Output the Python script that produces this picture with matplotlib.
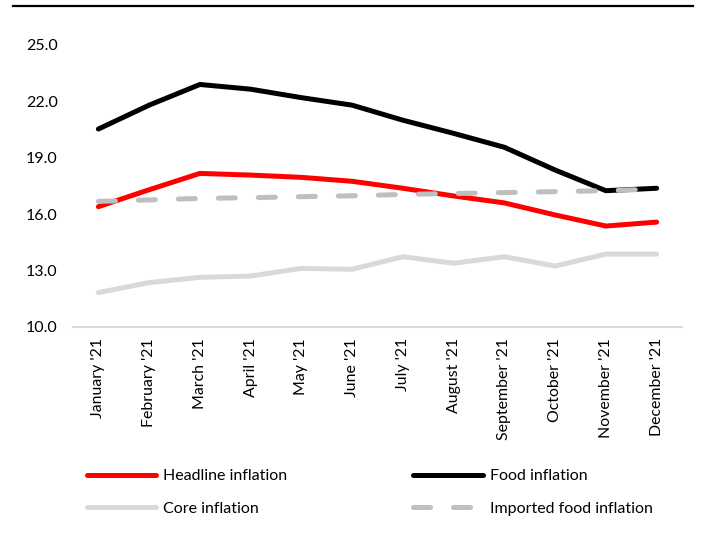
import matplotlib
matplotlib.use("Agg")
import matplotlib.pyplot as plt
from matplotlib.lines import Line2D

plt.rcParams['font.family'] = ['Lato', 'DejaVu Sans']

months = ["January '21", "February '21", "March '21", "April '21", "May '21", "June '21",
          "July '21", "August '21", "September '21", "October '21", "November '21", "December '21"]

headline = [16.4, 17.3, 18.17, 18.08, 17.96, 17.75, 17.38, 16.97, 16.6, 15.96, 15.37, 15.58]
food = [20.53, 21.8, 22.9, 22.65, 22.2, 21.8, 21.0, 20.3, 19.56, 18.35, 17.25, 17.38]
core = [11.83, 12.36, 12.64, 12.71, 13.12, 13.07, 13.74, 13.39, 13.74, 13.24, 13.88, 13.88]
imported_food = [16.68, 16.76, 16.84, 16.88, 16.93, 16.98, 17.05, 17.1, 17.15, 17.2, 17.25, 17.34]

y_ticks = [10.0, 13.0, 16.0, 19.0, 22.0, 25.0]

W, H = 702, 542
fig = plt.figure(figsize=(W / 100, H / 100), dpi=100)
ax = fig.add_axes([73 / W, 1 - 327 / H, (682 - 73) / W, (327 - 45) / H])

x = list(range(len(months)))
lw = 3.6
ax.plot(x, core, color='#d9d9d9', lw=lw, solid_capstyle='round', solid_joinstyle='round',
        label='Core inflation', zorder=2)
ax.plot(x, headline, color='#ff0000', lw=lw, solid_capstyle='round', solid_joinstyle='round',
        label='Headline inflation', zorder=3)
ax.plot(x, food, color='#000000', lw=lw, solid_capstyle='round', solid_joinstyle='round',
        label='Food inflation', zorder=4)
ax.plot(x, imported_food, color='#bfbfbf', lw=lw, dashes=(3.4, 4.6), dash_capstyle='round',
        label='Imported food inflation', zorder=5)

ax.set_xlim(-0.5, len(months) - 0.5)
ax.set_ylim(10, 25)
ax.set_yticks(y_ticks)
ax.set_yticklabels([f"{v:.1f}" for v in y_ticks], fontsize=11.5, color='#000000')
ax.set_xticks(x)
ax.set_xticklabels(months, rotation=90, fontsize=11.4, color='#000000')
ax.tick_params(axis='both', length=0)
ax.tick_params(axis='y', pad=11)
ax.tick_params(axis='x', pad=8)
for s in ['top', 'right', 'left']:
    ax.spines[s].set_visible(False)
ax.spines['bottom'].set_color('#d9d9d9')
ax.spines['bottom'].set_linewidth(1.5)

# rule across the top of the figure
fig.add_artist(Line2D([13 / W, 693 / W], [1 - 6 / H, 1 - 6 / H], color='black', lw=1.6,
                      transform=fig.transFigure))

handles, labels = ax.get_legend_handles_labels()
order = [1, 0, 2, 3]  # rows: headline | food, core | imported food
leg = fig.legend([handles[i] for i in order], [labels[i] for i in order],
                 loc='upper left', bbox_to_anchor=(87 / W, 1 - 469 / H), ncol=2,
                 frameon=False, fontsize=11.5, handlelength=4.35, handletextpad=0.42,
                 columnspacing=7.9, labelspacing=1.15, borderaxespad=0, borderpad=0)

fig.savefig('out.png', dpi=100, facecolor='white')
